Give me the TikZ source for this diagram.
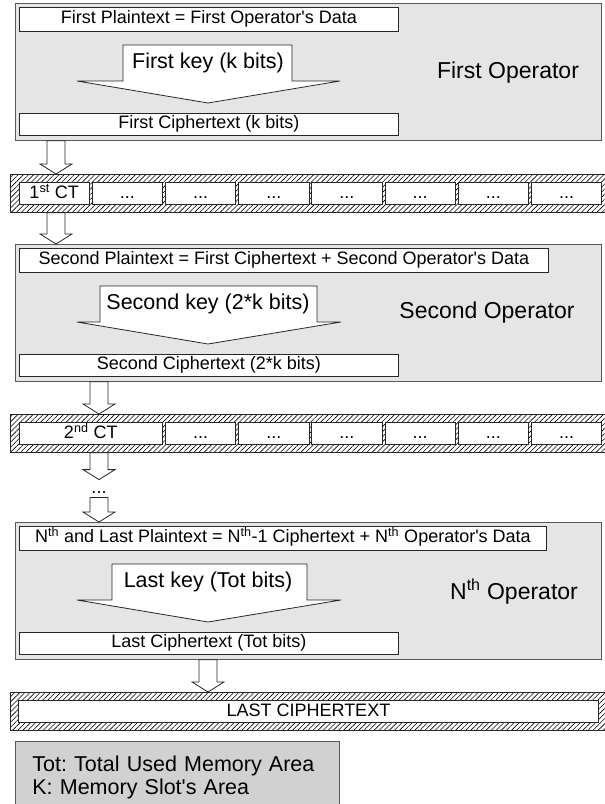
\documentclass[tikz,border=0pt]{standalone}
\usepackage{fontspec}
\setmainfont{Liberation Sans}[Ligatures=TeXOff]
\usetikzlibrary{patterns.meta}
\usetikzlibrary{calc}

% hollow block arrow from #1 (top) to #2 (tip)
\newcommand{\hollowarrow}[2]{%
  \draw[hollow] let \p1=(#1), \p2=(#2) in
    (\x1-9pt,\y1) -- (\x1+9pt,\y1) -- (\x1+9pt,\y2+10pt) -- (\x1+16pt,\y2+10pt)
    -- (\x2,\y2) -- (\x1-16pt,\y2+10pt) -- (\x1-9pt,\y2+10pt) -- cycle;}

\begin{document}
\frenchspacing
\begin{tikzpicture}[x=1pt,y=-1pt,line width=0.8pt]
\clip (0,0) rectangle (605,804);

% Define the operator box style
\tikzstyle{operator}=[rectangle,anchor=north west,inner sep=0pt,draw=black!65,fill=black!10]
% Define the style for the text boxes inside an operator
\tikzstyle{databox}=[rectangle,anchor=north west,inner sep=0pt,minimum height=24,draw=black!85,fill=white,text height=13,text depth=4,font=\fontsize{18}{20}\selectfont]
\tikzstyle{cipherbox}=[databox,minimum height=22]
% the key arrow and its label
\tikzstyle{keyshape}=[draw=black!85,fill=white,line join=miter]
\tikzstyle{keytext}=[inner sep=0pt,font=\fontsize{21.5}{24}\selectfont]
\tikzstyle{oplabel}=[inner sep=0pt,font=\fontsize{23}{26}\selectfont]
% memory bar and its slots
\tikzstyle{membar}=[rectangle,anchor=north west,inner sep=0pt,minimum height=38,draw=black!85,pattern={Lines[angle=45,distance=3.6pt,line width=0.6pt]}]
\tikzstyle{slot}=[rectangle,anchor=north west,inner sep=0pt,minimum width=70.5,minimum height=22,draw=black!85,fill=white,text height=13,text depth=3,font=\fontsize{18}{20}\selectfont]
\tikzstyle{hollow}=[draw=black!85,fill=white,line join=miter]
\tikzstyle{legend}=[rectangle,anchor=north west,draw=black!65,fill=black!18,align=left,text width=290,inner xsep=17,inner ysep=0pt,minimum height=72,font=\fontsize{21.5}{22.5}\selectfont]

% x positions of the block arrows
\coordinate (ax1) at (56,0);
\coordinate (ax2) at (99,0);
\coordinate (ax3) at (208,0);

% first operator
\node (op1) [operator,minimum width=586,minimum height=137] at (15,3) {};
\node (plain1) [databox,minimum width=379] at (19,7) {First Plaintext = First Operator's Data};
\draw[keyshape] (123,45) -- (292,45) -- (292,81) -- (340,81) -- (208,103) -- (77,81) -- (123,81) -- cycle;
\node (key1) [keytext] at (208,63) {First key (k bits)};
\node (ct1) [cipherbox,minimum width=379] at (19,113) {First Ciphertext (k bits)};
\node (lab1) [oplabel] at (508,73) {First Operator};

% first memory bar
\node (bar1) [membar,minimum width=597] at (10,174) {};
\node (slotA1) [slot] at (18.5,182) {1\textsuperscript{st} CT};
\foreach \i in {2,...,8}
  \node (slotA\i) [slot] at (18.5+73.2*\i-73.2,182) {...};

% second operator
\node (op2) [operator,minimum width=586,minimum height=137] at (15,244) {};
\node (plain2) [databox,minimum width=529] at (19,248) {Second Plaintext = First Ciphertext + Second Operator's Data};
\draw[keyshape] (100,286) -- (317,286) -- (317,322) -- (341,322) -- (208,344) -- (77,322) -- (100,322) -- cycle;
\node (key2) [keytext] at (208,304) {Second key (2*k bits)};
\node (ct2) [cipherbox,minimum width=379] at (19,354) {Second Ciphertext (2*k bits)};
\node (lab2) [oplabel] at (487,313) {Second Operator};

% second memory bar
\node (bar2) [membar,minimum width=597] at (10,414) {};
\node (slotB1) [slot,minimum width=143.7] at (18.5,422) {2\textsuperscript{nd} CT};
\foreach \i in {3,...,8}
  \node (slotB\i) [slot] at (18.5+73.2*\i-73.2,422) {...};

\node (dots) [inner sep=0pt,minimum height=17,text height=13,text depth=4,font=\fontsize{18}{20}\selectfont] at (99,488.5) {...};

% last operator
\node (op3) [operator,minimum width=586,minimum height=137] at (15,522) {};
\node (plain3) [databox,minimum width=527] at (19,526) {N\textsuperscript{th} and Last Plaintext = N\textsuperscript{th}-1 Ciphertext + N\textsuperscript{th} Operator's Data};
\draw[keyshape] (112,564) -- (307,564) -- (307,600) -- (341,600) -- (208,622) -- (77,600) -- (112,600) -- cycle;
\node (key3) [keytext] at (208,582) {Last key (Tot bits)};
\node (ct3) [cipherbox,minimum width=379] at (19,632) {Last Ciphertext (Tot bits)};
\node (lab3) [oplabel] at (514,592) {N\textsuperscript{th} Operator};

% last memory bar
\node (bar3) [membar,minimum width=597] at (10,692) {};
\node (lastct) [slot,minimum width=580] at (18,700) {LAST CIPHERTEXT};

% the block arrows
\hollowarrow{ax1|-op1.south}{ax1|-bar1.north}
\hollowarrow{ax1|-bar1.south}{ax1|-op2.north}
\hollowarrow{ax2|-op2.south}{ax2|-bar2.north}
\hollowarrow{ax2|-bar2.south}{ax2|-dots.north}
\hollowarrow{ax2|-dots.south}{ax2|-op3.north}
\hollowarrow{ax3|-op3.south}{ax3|-bar3.north}

% legend
\node (legend) [legend] at (15,741) {Tot: Total Used Memory Area\\K: Memory Slot's Area};

\end{tikzpicture}
\end{document}
